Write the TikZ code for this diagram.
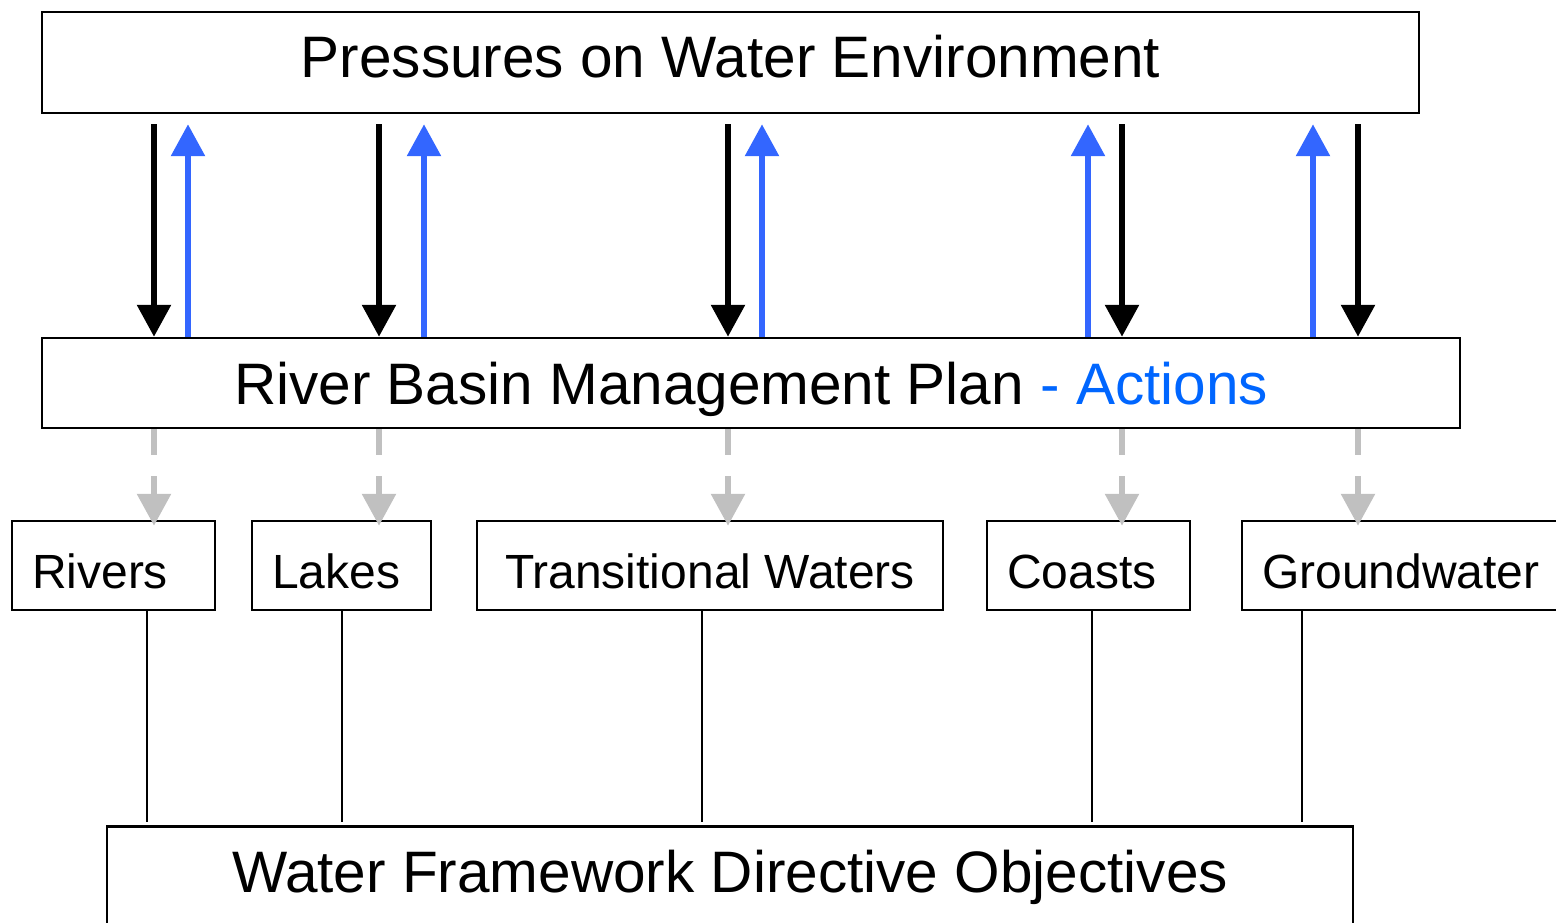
\documentclass[tikz,border=0pt]{standalone}
\usepackage{fontspec}
\setmainfont{Liberation Sans}
\usetikzlibrary{arrows.meta}
\definecolor{actblue}{RGB}{51,102,255}
\definecolor{acttext}{RGB}{0,102,255}
\definecolor{feedgray}{RGB}{192,192,192}
\tikzset{
  bigbox/.style={draw, line width=2.5pt, inner sep=0pt, font=\fontsize{58.5}{60}\selectfont},
  waterbox/.style={draw, line width=2.5pt, inner ysep=0pt, inner xsep=20pt, align=flush left,
    text width=#1, minimum height=89pt, text height=45pt, text depth=0pt,
    font=\fontsize{48}{50}\selectfont},
  pressure/.style={-{Triangle[width=33pt,length=32pt]}, line width=6pt, black},
  action/.style={-{Triangle[width=33pt,length=32pt]}, line width=6pt, actblue},
  feed/.style={-{Triangle[width=33pt,length=32pt]}, line width=6pt, feedgray, dash pattern=on 26pt off 21pt},
  objline/.style={line width=2pt}
}

\begin{document}
\begin{tikzpicture}[x=1pt, y=-1pt]
\useasboundingbox (0,0) rectangle (1556,923);

% Pressures
\node[bigbox, minimum width=1377pt, minimum height=101pt, text height=42pt, text depth=11pt] (press) at (730.5,62.5) {Pressures on Water Environment};

% Plan
\node[bigbox, minimum width=1418pt, minimum height=90pt, text depth=0pt] (plan) at (751,383)
  {River Basin Management Plan {\color{acttext}- Actions}};

% Water bodies
\node[waterbox=163pt] (rivers) at (113.5,565.5) {Rivers};
\node[waterbox=139pt] (lakes) at (341.5,565.5) {Lakes};
\node[waterbox=426pt, align=flush center] (trans) at (710,565.5) {Transitional Waters};
\node[waterbox=163pt] (coasts) at (1088.5,565.5) {Coasts};
\node[waterbox=300pt] (ground) at (1412,565.5) {Groundwater};

% Objectives
\node[bigbox, anchor=north, minimum width=1246pt, text height=66pt, text depth=44pt] (wfd) at (730,825)
  {Water Framework Directive Objectives};

% Pressures down, actions up
\foreach \dn/\up [count=\i] in {154/188, 379/424, 728/762, 1122/1088, 1358/1313} {
  \coordinate (dn\i) at (\dn,0);
  \coordinate (up\i) at (\up,0);
  \draw[pressure, shorten <=10pt] (press.south -| dn\i) -- (plan.north -| dn\i);
  \draw[action, shorten >=10pt] (plan.north -| up\i) -- (press.south -| up\i);
}

% Plan to water bodies
\foreach \wb [count=\i] in {rivers, lakes, trans, coasts, ground}
  \draw[feed, shorten >=-6pt] (plan.south -| dn\i) -- (\wb.north -| dn\i);

% Water bodies to objectives
\foreach \wb/\lx in {rivers/147, lakes/342, trans/702, coasts/1092, ground/1302} {
  \coordinate (obj-\wb) at (\lx,0);
  \draw[objline, shorten >=3pt] (\wb.south -| obj-\wb) -- (wfd.north -| obj-\wb);
}
\end{tikzpicture}
\end{document}
